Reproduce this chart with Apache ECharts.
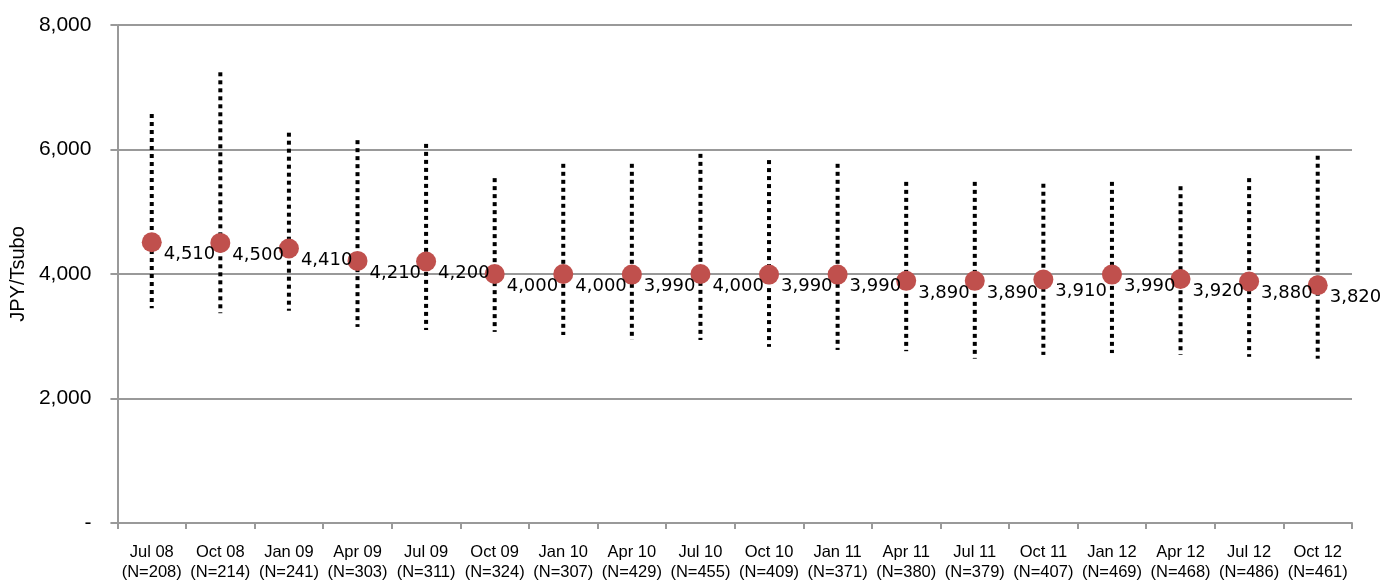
<!DOCTYPE html>
<html>
<head>
<meta charset="utf-8">
<title>Rent per Tsubo by Survey Quarter</title>
<script src="https://cdn.jsdelivr.net/npm/echarts@6/dist/echarts.min.js"></script>
<style>
  html, body { margin: 0; padding: 0; background: #ffffff; }
  #chart { width: 1390px; height: 582px; }
</style>
</head>
<body>
<div id="chart"></div>
<script>
// Survey quarters and sample sizes
const quarters = ['Jul 08', 'Oct 08', 'Jan 09', 'Apr 09', 'Jul 09', 'Oct 09', 'Jan 10', 'Apr 10', 'Jul 10',
                  'Oct 10', 'Jan 11', 'Apr 11', 'Jul 11', 'Oct 11', 'Jan 12', 'Apr 12', 'Jul 12', 'Oct 12'];
const sampleSizes = [208, 214, 241, 303, 311, 324, 307, 429, 455, 409, 371, 380, 379, 407, 469, 468, 486, 461];

// Median rent (JPY/Tsubo)
const medianRent = [4510, 4500, 4410, 4210, 4200, 4000, 4000, 3990, 4000, 3990, 3990, 3890, 3890, 3910, 3990, 3920, 3880, 3820];

// Range of observed rents (upper and lower end)
const rangeHigh = [6570, 7240, 6270, 6150, 6090, 5540, 5770, 5770, 5930, 5830, 5770, 5480, 5480, 5450, 5480, 5410, 5540, 5900];
const rangeLow  = [3450, 3370, 3410, 3150, 3100, 3070, 3020, 2940, 2940, 2830, 2780, 2760, 2640, 2700, 2730, 2700, 2670, 2640];

// Y axis ticks
const yMin = 0, yMax = 8000, yStep = 2000;

const categoryLabels = quarters.map((q, i) => q + '\n(N=' + sampleSizes[i] + ')');
const rangeData = quarters.map((q, i) => [i, rangeLow[i], rangeHigh[i]]);

const chart = echarts.init(document.getElementById('chart'), null, { renderer: 'canvas' });

const axisGray = '#999999';

chart.setOption({
  animation: false,
  backgroundColor: '#ffffff',
  grid: { left: 117, right: 38, top: 25, bottom: 57, containLabel: false },
  xAxis: {
    type: 'category',
    data: categoryLabels,
    boundaryGap: true,
    axisLine: { show: true, lineStyle: { color: axisGray, width: 2 } },
    axisTick: { show: true, alignWithLabel: false, length: 6, lineStyle: { color: axisGray, width: 2 } },
    axisLabel: {
      interval: 0,
      margin: 19,
      color: '#000000',
      fontFamily: 'Liberation Sans',
      fontSize: 16.5,
      lineHeight: 20
    },
    splitLine: { show: false }
  },
  yAxis: {
    type: 'value',
    min: yMin,
    max: yMax,
    interval: yStep,
    name: 'JPY/Tsubo',
    nameLocation: 'middle',
    nameRotate: 90,
    nameGap: 88,
    nameTextStyle: { color: '#000000', fontFamily: 'Liberation Sans', fontSize: 20 },
    axisLine: { show: true, lineStyle: { color: axisGray, width: 2 } },
    axisTick: { show: true, length: 7, lineStyle: { color: axisGray, width: 2 } },
    axisLabel: {
      margin: 26,
      color: '#000000',
      fontFamily: 'Liberation Sans',
      fontSize: 21,
      formatter: v => (v === 0 ? '-' : v.toLocaleString('en-US'))
    },
    splitLine: { show: true, lineStyle: { color: axisGray, width: 2 } }
  },
  series: [
    {
      // dotted low–high range for each quarter
      type: 'custom',
      data: rangeData,
      z: 2,
      renderItem: function (params, api) {
        const top = api.coord([api.value(0), api.value(2)]);
        const bottom = api.coord([api.value(0), api.value(1)]);
        return {
          type: 'line',
          shape: { x1: top[0], y1: top[1], x2: bottom[0], y2: bottom[1] },
          style: { stroke: '#000000', lineWidth: 4, lineDash: [4, 4], lineCap: 'butt' }
        };
      }
    },
    {
      // median marker with value label
      type: 'scatter',
      data: medianRent,
      symbol: 'circle',
      symbolSize: 20,
      z: 3,
      itemStyle: { color: '#C0504D', opacity: 1 },
      label: {
        show: true,
        position: 'right',
        distance: 2,
        offset: [0, 12],
        color: '#000000',
        fontFamily: 'DejaVu Sans',
        fontSize: 18,
        formatter: p => p.value.toLocaleString('en-US')
      }
    }
  ]
});
</script>
</body>
</html>
